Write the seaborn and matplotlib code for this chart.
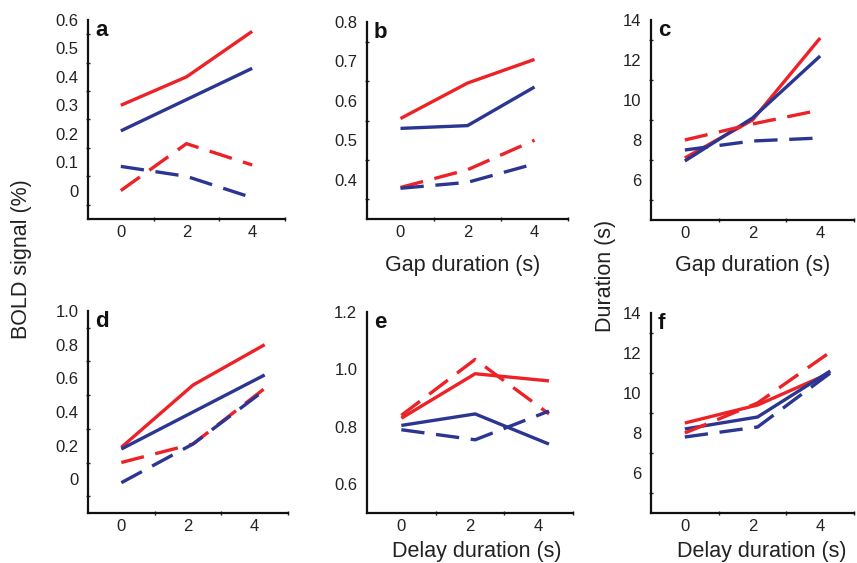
import numpy as np
import pandas as pd
import matplotlib
matplotlib.use("Agg")
import matplotlib.pyplot as plt
import seaborn as sns

# x positions of the three conditions
gap_x = [0, 2, 4]
delay_x = [0, 2.15, 4.3]

# panel a: BOLD signal vs gap
a_red_solid = [0.30, 0.40, 0.56]
a_blue_solid = [0.21, 0.32, 0.43]
a_red_dash = [0.0, 0.165, 0.09]
a_blue_dash = [0.085, 0.05, -0.025]

# panel b: BOLD signal vs gap
b_red_solid = [0.555, 0.645, 0.705]
b_blue_solid = [0.53, 0.537, 0.635]
b_red_dash = [0.38, 0.425, 0.50]
b_blue_dash = [0.378, 0.393, 0.44]

# panel c: duration vs gap
c_red_solid = [7.1, 9.0, 13.1]
c_blue_solid = [6.95, 9.1, 12.2]
c_red_dash = [8.0, 8.8, 9.5]
c_blue_dash = [7.5, 7.95, 8.1]

# panel d: BOLD signal vs delay
d_red_solid = [0.19, 0.56, 0.80]
d_blue_solid = [0.18, 0.40, 0.62]
d_red_dash = [0.10, 0.21, 0.54]
d_blue_dash = [-0.02, 0.21, 0.53]

# panel e: BOLD signal vs delay
e_red_solid = [0.83, 0.985, 0.96]
e_blue_solid = [0.805, 0.845, 0.74]
e_red_dash = [0.84, 1.035, 0.845]
e_blue_dash = [0.79, 0.755, 0.855]

# panel f: duration vs delay
f_red_solid = [8.5, 9.4, 11.0]
f_blue_solid = [8.2, 8.8, 11.1]
f_red_dash = [8.0, 9.5, 12.05]
f_blue_dash = [7.8, 8.3, 11.0]

a_ticks = [0, 0.1, 0.2, 0.3, 0.4, 0.5, 0.6]
a_labels = ["0", "0.1", "0.2", "0.3", "0.4", "0.5", "0.6"]
b_ticks = [0.4, 0.5, 0.6, 0.7, 0.8]
b_labels = ["0.4", "0.5", "0.6", "0.7", "0.8"]
dur_ticks = [6, 8, 10, 12, 14]
dur_labels = ["6", "8", "10", "12", "14"]
d_ticks = [0, 0.2, 0.4, 0.6, 0.8, 1.0]
d_labels = ["0", "0.2", "0.4", "0.6", "0.8", "1.0"]
e_ticks = [0.6, 0.8, 1.0, 1.2]
e_labels = ["0.6", "0.8", "1.0", "1.2"]

RED = "#ec2227"
BLUE = "#2b3592"
TXT = "#222222"

sns.set_style("ticks")
plt.rcParams["font.family"] = ["Liberation Sans", "DejaVu Sans"]

fig = plt.figure(figsize=(8.57, 5.63), dpi=100)
W, H = 857, 563


def add_ax(left, top, right, bottom):
    return fig.add_axes([left / W, 1 - bottom / H, (right - left) / W, (bottom - top) / H])


panels = [
    ("a", add_ax(88, 20, 285, 219), gap_x, [a_red_solid, a_blue_solid, a_red_dash, a_blue_dash],
     (-0.1, 0.6), a_ticks, a_labels),
    ("b", add_ax(367, 22, 568, 219), gap_x, [b_red_solid, b_blue_solid, b_red_dash, b_blue_dash],
     (0.3, 0.8), b_ticks, b_labels),
    ("c", add_ax(651, 20, 854, 220), gap_x, [c_red_solid, c_blue_solid, c_red_dash, c_blue_dash],
     (4, 14), dur_ticks, dur_labels),
    ("d", add_ax(88, 311, 288, 513), delay_x, [d_red_solid, d_blue_solid, d_red_dash, d_blue_dash],
     (-0.2, 1.0), d_ticks, d_labels),
    ("e", add_ax(367, 312, 573, 513), delay_x, [e_red_solid, e_blue_solid, e_red_dash, e_blue_dash],
     (0.5, 1.2), e_ticks, e_labels),
    ("f", add_ax(651, 313, 854, 513), delay_x, [f_red_solid, f_blue_solid, f_red_dash, f_blue_dash],
     (4, 14), dur_ticks, dur_labels),
]

styles = [(RED, None), (BLUE, None), (RED, (7, 3.5)), (BLUE, (7, 3.5))]

for letter, ax, xs, series, ylim, yt, ylab in panels:
    for vals, (col, dash) in zip(series, styles):
        df = pd.DataFrame({"x": xs, "y": vals})
        sns.lineplot(data=df, x="x", y="y", ax=ax, color=col, lw=2.4, sort=False)
        if dash is not None:
            ax.lines[-1].set_dashes(dash)
        ax.lines[-1].set_solid_capstyle("butt")
        ax.lines[-1].set_dash_capstyle("butt")
    ax.set_xlim(-1, 5)
    ax.set_ylim(*ylim)
    ax.set_xticks([0, 2, 4])
    ax.set_xticklabels(["0", "2", "4"])
    ax.set_xticks([1, 3, 5], minor=True)
    ax.set_yticks(yt)
    ax.set_yticklabels(ylab)
    step = yt[1] - yt[0]
    ax.set_yticks(np.arange(ylim[0] + step / 2, ylim[1], step), minor=True)
    ax.tick_params(which="major", length=0, labelsize=12, colors=TXT)
    ax.tick_params(axis="y", which="major", pad=7)
    ax.tick_params(axis="x", which="major", pad=4)
    ax.tick_params(which="minor", length=3, width=1, direction="inout", color=TXT)
    sns.despine(ax=ax)
    for s in ["left", "bottom"]:
        ax.spines[s].set_linewidth(1.6)
        ax.spines[s].set_color("#111111")
    ax.set_ylabel("")
    ax.set_xlabel("")
    ax.text(0.035, 1.0, letter, transform=ax.transAxes, fontsize=16, fontweight="bold",
            va="top", ha="left", color="#111111")

lab_kw = dict(fontsize=15.5, color=TXT, va="center", ha="center")
fig.text(463 / W, 1 - 266 / H, "Gap duration (s)", **lab_kw)
fig.text(753 / W, 1 - 266 / H, "Gap duration (s)", **lab_kw)
fig.text(477 / W, 1 - 551 / H, "Delay duration (s)", **lab_kw)
fig.text(762 / W, 1 - 551 / H, "Delay duration (s)", **lab_kw)
fig.text(22 / W, 1 - 259 / H, "BOLD signal (%)", rotation=90, **lab_kw)
fig.text(606 / W, 1 - 276 / H, "Duration (s)", rotation=90, **lab_kw)

fig.savefig("out.png", dpi=100)
